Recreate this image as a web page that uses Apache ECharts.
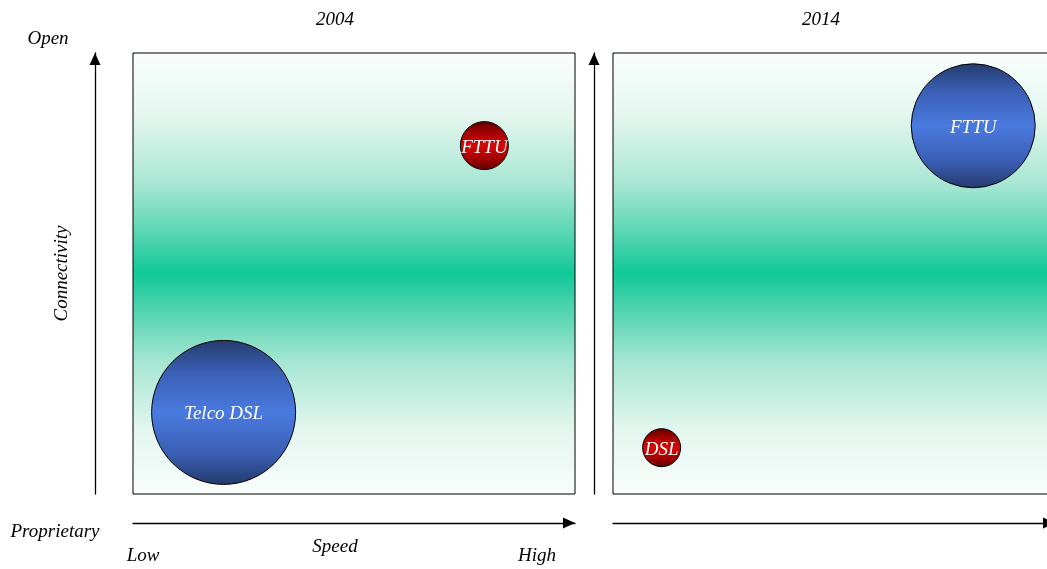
<!DOCTYPE html>
<html>
<head>
<meta charset="utf-8">
<script src="https://cdn.jsdelivr.net/npm/echarts@6/dist/echarts.min.js"></script>
<style>
  html, body { margin: 0; padding: 0; background: #ffffff; }
  #chart { width: 1047px; height: 569px; }
</style>
</head>
<body>
<div id="chart"></div>
<script>
// Broadband technologies: speed vs. connectivity, 2004 and 2014
const years = ['2004', '2014'];

const names2004 = ['FTTU', 'Telco DSL'];
const speed2004 = [7.95, 2.05];
const connectivity2004 = [7.9, 1.85];
const size2004 = [48, 144];
const tone2004 = ['red', 'blue'];

const names2014 = ['FTTU', 'DSL'];
const speed2014 = [8.15, 1.1];
const connectivity2014 = [8.35, 1.05];
const size2014 = [124, 38];
const tone2014 = ['blue', 'red'];

const axisWords = { top: 'Open', bottom: 'Proprietary', low: 'Low', high: 'High', xName: 'Speed', yName: 'Connectivity' };

const serif = '"Liberation Serif", "DejaVu Serif", serif';
const textSize = 19;

function vGrad(stops) {
  return new echarts.graphic.LinearGradient(0, 0, 0, 1,
    stops.map(s => ({ offset: s[0], color: s[1] })));
}

const panelFill = vGrad([
  [0, '#fbfefd'], [0.15, '#e2f6ee'], [0.3, '#a6e6d2'], [0.42, '#4fd4ae'],
  [0.5, '#10c998'],
  [0.58, '#4fd4ae'], [0.7, '#a6e6d2'], [0.85, '#e2f6ee'], [1, '#f9fdfb']
]);

const tones = {
  blue: () => vGrad([[0, '#253a6c'], [0.22, '#3a5fb4'], [0.5, '#4a7ae0'], [0.78, '#3a5fb4'], [1, '#253a6c']]),
  red: () => vGrad([[0, '#5e0000'], [0.25, '#a80000'], [0.5, '#d80808'], [0.75, '#a80000'], [1, '#5e0000']])
};

function bubbles(names, xs, ys, sizes, toneList) {
  return names.map((n, i) => ({
    name: n,
    value: [xs[i], ys[i]],
    symbolSize: sizes[i],
    itemStyle: { color: tones[toneList[i]](), borderColor: '#000000', borderWidth: 1, opacity: 1 }
  }));
}

function arrowLine(headPullback) {
  return {
    show: true,
    onZero: false,
    symbol: ['none', 'triangle'],
    symbolSize: [11, 12],
    symbolOffset: [0, headPullback],
    lineStyle: { color: '#000000', width: 1.3 }
  };
}

function xAxisFor(gridIndex) {
  return {
    type: 'value', gridIndex, min: 0, max: 10,
    position: 'bottom', offset: 29,
    axisLine: arrowLine(-6),
    axisTick: { show: false }, axisLabel: { show: false }, splitLine: { show: false }
  };
}

function yAxisFor(gridIndex, offset, withName) {
  return {
    type: 'value', gridIndex, min: 0, max: 10,
    position: 'left', offset,
    axisLine: arrowLine(-6),
    axisTick: { show: false }, axisLabel: { show: false }, splitLine: { show: false },
    name: withName ? axisWords.yName : '',
    nameLocation: 'middle', nameRotate: 90, nameGap: 24,
    nameTextStyle: { fontFamily: serif, fontStyle: 'italic', fontSize: textSize, color: '#000000' }
  };
}

const labelStyle = {
  show: true, position: 'inside', formatter: '{b}', offset: [0, 2],
  fontFamily: serif, fontStyle: 'italic', fontSize: textSize, color: '#ffffff'
};

function caption(text, x, y, align) {
  return {
    type: 'text', x, y,
    style: {
      text, fontFamily: serif, fontStyle: 'italic', fontSize: textSize, fill: '#000000',
      textAlign: align || 'center', textVerticalAlign: 'middle'
    }
  };
}

const titleStyle = { fontFamily: serif, fontStyle: 'italic', fontWeight: 'normal', fontSize: textSize, color: '#000000' };

const chart = echarts.init(document.getElementById('chart'), null, { renderer: 'canvas' });
chart.setOption({
  animation: false,
  backgroundColor: '#ffffff',
  title: [
    { text: years[0], left: 335, top: 10, textAlign: 'center', textStyle: titleStyle, padding: 0 },
    { text: years[1], left: 821, top: 10, textAlign: 'center', textStyle: titleStyle, padding: 0 }
  ],
  grid: [
    { left: 133, top: 53, width: 442, height: 441, show: true, backgroundColor: panelFill,
      borderColor: '#000000', borderWidth: 1, outerBoundsMode: 'none' },
    { left: 613, top: 53, width: 442, height: 441, show: true, backgroundColor: panelFill,
      borderColor: '#000000', borderWidth: 1, outerBoundsMode: 'none' }
  ],
  xAxis: [xAxisFor(0), xAxisFor(1)],
  yAxis: [yAxisFor(0, 38, true), yAxisFor(1, 19, false)],
  series: [
    { type: 'scatter', xAxisIndex: 0, yAxisIndex: 0, symbol: 'circle',
      data: bubbles(names2004, speed2004, connectivity2004, size2004, tone2004), label: labelStyle },
    { type: 'scatter', xAxisIndex: 1, yAxisIndex: 1, symbol: 'circle',
      data: bubbles(names2014, speed2014, connectivity2014, size2014, tone2014), label: labelStyle }
  ],
  graphic: [
    caption(axisWords.top, 48, 39),
    caption(axisWords.bottom, 55, 532),
    caption(axisWords.low, 143, 556),
    caption(axisWords.xName, 335, 547),
    caption(axisWords.high, 537, 556)
  ]
});
</script>
</body>
</html>
